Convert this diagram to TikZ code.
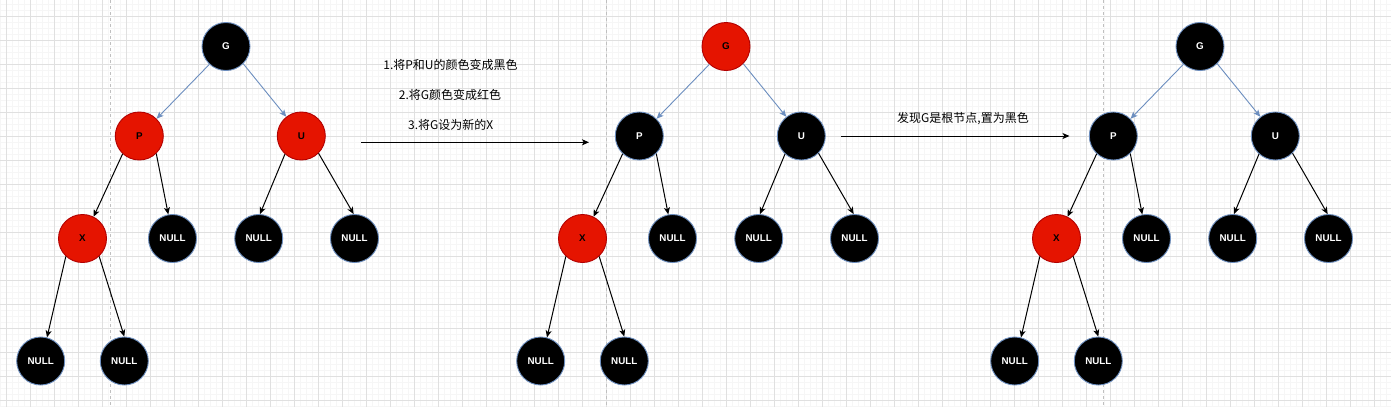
\documentclass[tikz,border=0pt]{standalone}
\usepackage{fontspec}
\newfontfamily\cjkfont{Noto Sans CJK SC}
\newfontfamily\labfont{Liberation Sans}
\usetikzlibrary{arrows.meta}
\definecolor{rbred}{HTML}{E51400}
\definecolor{rbredline}{HTML}{B20000}
\definecolor{rbblue}{HTML}{6C8EBF}
\definecolor{gridmajor}{HTML}{E0E0E0}
\definecolor{gridminor}{HTML}{F6F6F6}
\definecolor{pagedash}{HTML}{C0C0C0}
\tikzset{
  tnode/.style={circle, minimum size=48pt, inner sep=0pt, line width=0.9pt,
    font=\labfont\bfseries\fontsize{9.8}{10}\selectfont},
  blk/.style={tnode, fill=black, draw=rbblue, text=white},
  rd/.style={tnode, fill=rbred, draw=rbredline, text=black},
  arrowtip/.style={-{Stealth[length=7pt,width=6pt,inset=1.8pt]}},
  topedge/.style={arrowtip, draw=rbblue, line width=0.9pt},
  subedge/.style={arrowtip, draw=black, line width=1pt},
  stepnote/.style={font=\cjkfont\fontsize{12}{14}\selectfont, inner sep=0pt, text=black},
  minorline/.style={draw=gridminor, line width=1pt},
  majorline/.style={draw=gridmajor, line width=1pt},
  pageline/.style={draw=pagedash, line width=1pt, dash pattern=on 3pt off 3pt},
}
\begin{document}
\begin{tikzpicture}[x=1pt, y=-1pt]
  \useasboundingbox (0,0) rectangle (1391,407);
  \fill[white] (0,0) rectangle (1391,407);
  % grid
  \foreach \gx in {0.5,6.5,...,1390.5} \draw[minorline] (\gx,0) -- (\gx,407);
  \foreach \gy in {4.5,10.5,...,406.5} \draw[minorline] (0,\gy) -- (1391,\gy);
  \foreach \gx in {6.5,30.5,...,1390.5} \draw[majorline] (\gx,0) -- (\gx,407);
  \foreach \gy in {16.5,40.5,...,406.5} \draw[majorline] (0,\gy) -- (1391,\gy);
  % page break lines
  \draw[pageline] (110.7,0) -- (110.7,407);
  \draw[pageline] (606.7,0) -- (606.7,407);
  \draw[pageline] (1103.3,0) -- (1103.3,407);
  % trees
  \foreach \ox/\pre/\gstyle/\pstyle in {0/a/blk/rd, 500/b/rd/blk, 974/c/blk/blk}{
    \begin{scope}[shift={(\ox,0)}, name prefix=\pre-]
      \node[\gstyle] (G) at (226,46.5) {G};
      \node[\pstyle] (P) at (139.3,136) {P};
      \node[\pstyle] (U) at (301.3,136) {U};
      \node[rd] (X) at (82.5,238.5) {X};
      \node[blk] (N1) at (172.5,238.5) {NULL};
      \node[blk] (N2) at (258.7,238.5) {NULL};
      \node[blk] (N3) at (354.5,238.5) {NULL};
      \node[blk] (N4) at (40.7,361) {NULL};
      \node[blk] (N5) at (124.3,361) {NULL};
      \draw[topedge] (G.227) -- (P.45);
      \draw[topedge] (G.-45) -- (U.128);
      \draw[subedge] (P.227) -- (X.63);
      \draw[subedge] (P.-46) -- (N1.100);
      \draw[subedge] (U.-132) -- (N2.87);
      \draw[subedge] (U.-45) -- (N3.92);
      \draw[subedge] (X.-133) -- (N4.75);
      \draw[subedge] (X.-47) -- (N5.90);
    \end{scope}
  }
  % step arrows and notes
  \coordinate (s1) at (361,142.3);
  \coordinate (e1) at (589,142.3);
  \coordinate (s2) at (841,136);
  \coordinate (e2) at (1069.5,136);
  \draw[subedge] (s1) -- (e1);
  \draw[subedge] (s2) -- (e2);
  \node[stepnote] (t1) at (450.5,65) {1.将P和U的颜色变成黑色};
  \node[stepnote] (t2) at (450,95) {2.将G颜色变成红色};
  \node[stepnote] (t3) at (450.7,125) {3.将G设为新的X};
  \node[stepnote] (t4) at (963,118.3) {发现G是根节点,置为黑色};
\end{tikzpicture}
\end{document}
